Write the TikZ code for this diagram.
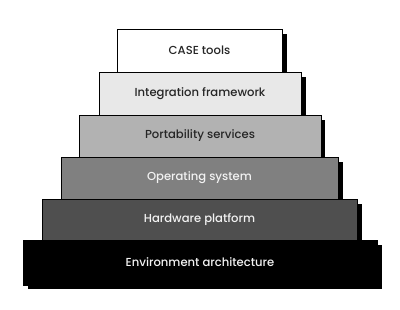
\documentclass[tikz,border=0pt]{standalone}
\usepackage{fontspec}
\setmainfont{Poppins}[UprightFont=* Medium]
\begin{document}
\begin{tikzpicture}[x=1pt,y=-1pt,
  layer/.style={draw=black,line width=0.9pt,rectangle,inner sep=0pt,
    font=\fontsize{11.6}{13}\selectfont},
  shade/.style={fill=black,draw=none}]
\useasboundingbox (0,0) rectangle (400,309);
\fill[white] (0,0) rectangle (400,309);
% shadows and boxes drawn top to bottom
\fill[shade] (122,34) rectangle (287,77);
\node[layer,fill=white,text=black!85,minimum width=165pt,minimum height=43pt] (case) at (199.5,50.5) {CASE tools};
\fill[shade] (104,77) rectangle (306,120);
\node[layer,fill=black!9,text=black!85,minimum width=202pt,minimum height=43pt] (integ) at (200,93.5) {Integration framework};
\fill[shade] (84,120) rectangle (325,162);
\node[layer,fill=black!30,text=black!85,minimum width=242pt,minimum height=42pt] (port) at (200,136) {Portability services};
\fill[shade] (66,162) rectangle (343,204);
\node[layer,fill=black!50,text=black!5,minimum width=277pt,minimum height=42pt] (os) at (199.5,178) {Operating system};
\fill[shade] (47,204) rectangle (362,245);
\node[layer,fill=black!69,text=black!5,minimum width=315pt,minimum height=41pt] (hw) at (199.5,219.5) {Hardware platform};
\fill[shade] (28,245) rectangle (382,289);
\node[layer,fill=black,text=black!5,minimum width=354pt,minimum height=45pt] (env) at (200,262.5) {Environment architecture};
\end{tikzpicture}
\end{document}
